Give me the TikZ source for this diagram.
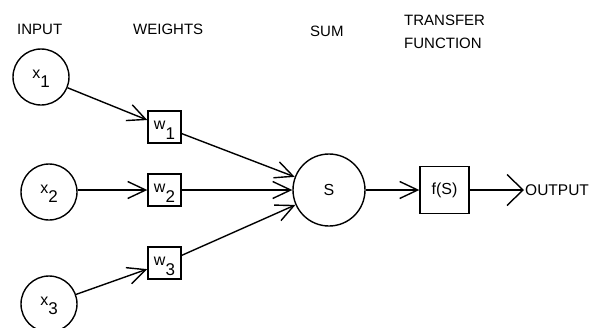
\documentclass[tikz,border=0pt]{standalone}
\usepackage{fontspec}
\setmainfont{Liberation Sans}
\usetikzlibrary{arrows.meta}
% variable letter with a lowered index of the same size
\newcommand\idxlabel[2]{{\fontsize{16}{19}\selectfont #1}\raisebox{-9.5pt}{\fontsize{17}{20}\selectfont #2}}

\begin{document}
\begin{tikzpicture}[x=1pt,y=-1pt,
  every node/.style={font=\fontsize{15}{18}\selectfont},
  heading/.style={anchor=west,inner sep=0pt},
  inputnode/.style={circle,draw,line width=1.4pt,minimum size=56pt,inner sep=0pt,text height=12pt,text depth=9.5pt},
  sumnode/.style={circle,draw,line width=1.4pt,minimum size=72pt,inner sep=0pt,font=\fontsize{16}{19}\selectfont},
  weightbox/.style={rectangle,draw,line width=1.4pt,minimum width=33pt,minimum height=32pt,inner sep=0pt,text height=15pt,text depth=9.5pt},
  funcbox/.style={rectangle,draw,line width=1.4pt,minimum width=49pt,minimum height=47pt,inner sep=0pt,font=\fontsize{16}{19}\selectfont},
  conn/.style={line width=1.4pt,-{Straight Barb[length=18pt,width=17pt,line width=1.4pt]}},
  outconn/.style={line width=1.4pt,-{Straight Barb[length=16pt,width=31pt,line width=1.4pt]}}
]
\useasboundingbox (0,0) rectangle (591,327);

% column headings
\node[heading] (hin) at (17,29.5) {INPUT};
\node[heading] (hw) at (133,29.5) {WEIGHTS};
\node[heading] (hsum) at (310,31.5) {SUM};
\node[heading] (htr) at (404,20) {TRANSFER};
\node[heading] (hfn) at (404,43) {FUNCTION};

% inputs
\node[inputnode] (x1) at (41,77) {\idxlabel{x}{1}};
\node[inputnode] (x2) at (49,192) {\idxlabel{x}{2}};
\node[inputnode] (x3) at (49,304) {\idxlabel{x}{3}};

% weights
\node[weightbox] (w1) at (164.5,127) {\idxlabel{w}{1}};
\node[weightbox] (w2) at (164.5,190) {\idxlabel{w}{2}};
\node[weightbox] (w3) at (164.5,263) {\idxlabel{w}{3}};

% summation and transfer function
\node[sumnode] (s) at (329,190) {S};
\node[funcbox] (f) at (444.5,190) {f(S)};
\node[anchor=west,inner sep=1pt,font=\fontsize{15.5}{18}\selectfont] (out) at (524,190) {OUTPUT};

% connections
\draw[conn] (x1) -- (w1);
\draw[conn] (x2.east |- w2) -- (w2);
\draw[conn] (x3) -- (w3);
\draw[conn] (w1) -- (s);
\draw[conn] (w2) -- (s);
\draw[conn] (w3) -- (s);
\draw[conn] (s) -- (f);
\draw[outconn] (f) -- (out.west);
\end{tikzpicture}
\end{document}
